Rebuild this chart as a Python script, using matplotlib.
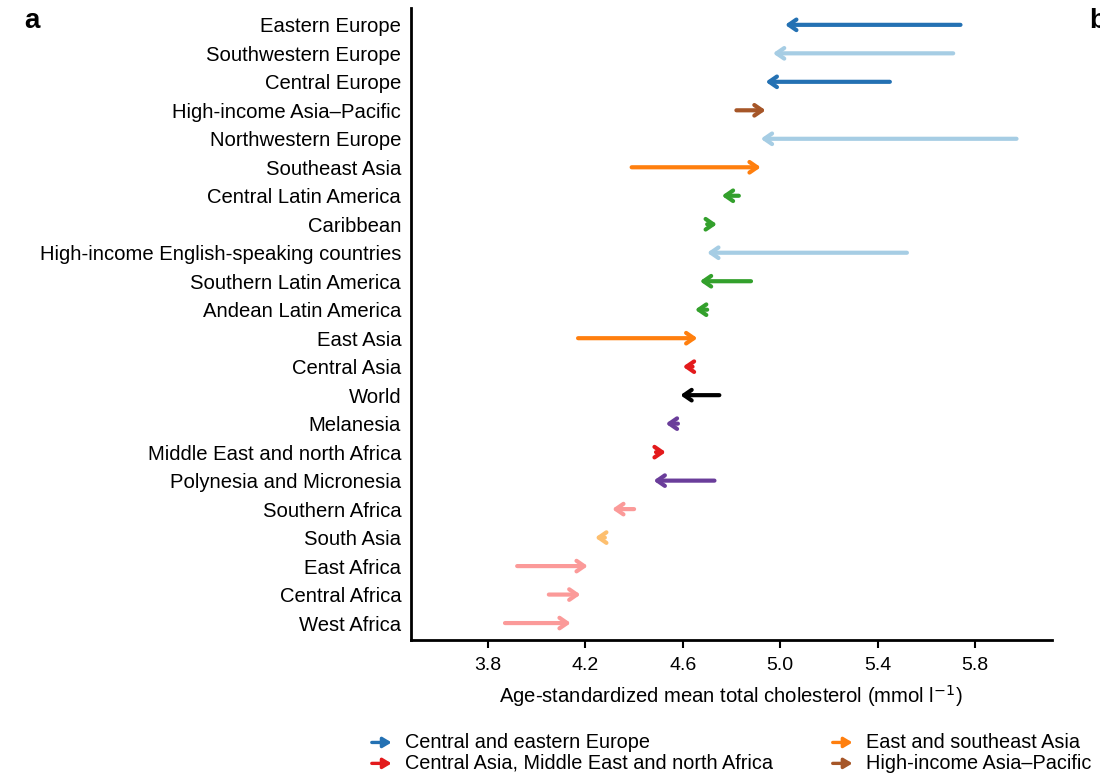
import matplotlib.pyplot as plt
import numpy as np

plt.rcParams['font.family'] = ['Liberation Sans', 'DejaVu Sans']

regions = ['Eastern Europe', 'Southwestern Europe', 'Central Europe', 'High-income Asia–Pacific',
           'Northwestern Europe', 'Southeast Asia', 'Central Latin America', 'Caribbean',
           'High-income English-speaking countries', 'Southern Latin America', 'Andean Latin America',
           'East Asia', 'Central Asia', 'World', 'Melanesia', 'Middle East and north Africa',
           'Polynesia and Micronesia', 'Southern Africa', 'South Asia', 'East Africa',
           'Central Africa', 'West Africa']
# 1980 -> 2018 values
start = [5.74, 5.71, 5.45, 4.82, 5.97, 4.39, 4.83, 4.70, 5.52, 4.88, 4.70,
         4.17, 4.64, 4.75, 4.58, 4.49, 4.73, 4.40, 4.28, 3.92, 4.05, 3.87]
end = [5.02, 4.97, 4.94, 4.94, 4.92, 4.92, 4.76, 4.74, 4.70, 4.67, 4.65,
       4.66, 4.60, 4.59, 4.53, 4.53, 4.48, 4.31, 4.24, 4.21, 4.18, 4.14]
groups = ['cee', 'hiw', 'cee', 'hiap', 'hiw', 'esa', 'lac', 'lac', 'hiw', 'lac', 'lac',
          'esa', 'cmena', 'world', 'oce', 'cmena', 'oce', 'ssa', 'sa', 'ssa', 'ssa', 'ssa']

colors = {'cee': '#2471b3', 'hiw': '#a6cde4', 'esa': '#ff7f0e', 'hiap': '#a65628',
          'lac': '#33a02c', 'cmena': '#e31a1c', 'world': '#000000', 'oce': '#6a3d9a',
          'ssa': '#fb9a99', 'sa': '#fdbf6f'}

legend_labels = [('cee', 'Central and eastern Europe'), ('esa', 'East and southeast Asia'),
                 ('cmena', 'Central Asia, Middle East and north Africa'),
                 ('hiap', 'High-income Asia–Pacific')]

fig = plt.figure(figsize=(11, 7.75), dpi=100)
ax = fig.add_axes([0.3736, 0.174, 0.5824, 0.816])

for i, (s, e, g) in enumerate(zip(start, end, groups)):
    ax.annotate('', xy=(e, i), xytext=(s, i),
                arrowprops=dict(arrowstyle='->,head_length=0.55,head_width=0.38',
                                color=colors[g], lw=3, shrinkA=0, shrinkB=0))

ax.set_xlim(3.484, 6.114)
ax.set_ylim(21.6, -0.6)
ax.set_yticks(range(len(regions)))
ax.set_yticklabels(regions, fontsize=14.6)
ax.tick_params(axis='y', length=0, pad=7)
ax.set_xticks(np.arange(3.8, 5.81, 0.4))
ax.set_xticklabels(['3.8', '4.2', '4.6', '5.0', '5.4', '5.8'], fontsize=14)
ax.tick_params(axis='x', length=6, width=1.5, pad=6)
ax.set_xlabel('Age-standardized mean total cholesterol (mmol l$^{-1}$)', fontsize=14.6, labelpad=7)
for side in ['top', 'right']:
    ax.spines[side].set_visible(False)
for side in ['left', 'bottom']:
    ax.spines[side].set_linewidth(2)

fig.text(0.022, 0.99, 'a', fontsize=20, fontweight='bold', va='top')
fig.text(0.99, 0.99, 'b', fontsize=20, fontweight='bold', va='top')

# legend
col_x = [0.338, 0.757]
row_y = [0.042, 0.015]
for k, (g, lab) in enumerate(legend_labels):
    x = col_x[k % 2]
    y = row_y[k // 2]
    ax.annotate('', xy=(x + 0.018, y), xytext=(x, y), xycoords='figure fraction',
                textcoords='figure fraction',
                arrowprops=dict(arrowstyle='-|>,head_length=0.5,head_width=0.3',
                                color=colors[g], lw=2.4, shrinkA=0, shrinkB=0),
                annotation_clip=False)
    fig.text(x + 0.03, y, lab, fontsize=14.3, va='center')

fig.savefig('out.png', dpi=100)
